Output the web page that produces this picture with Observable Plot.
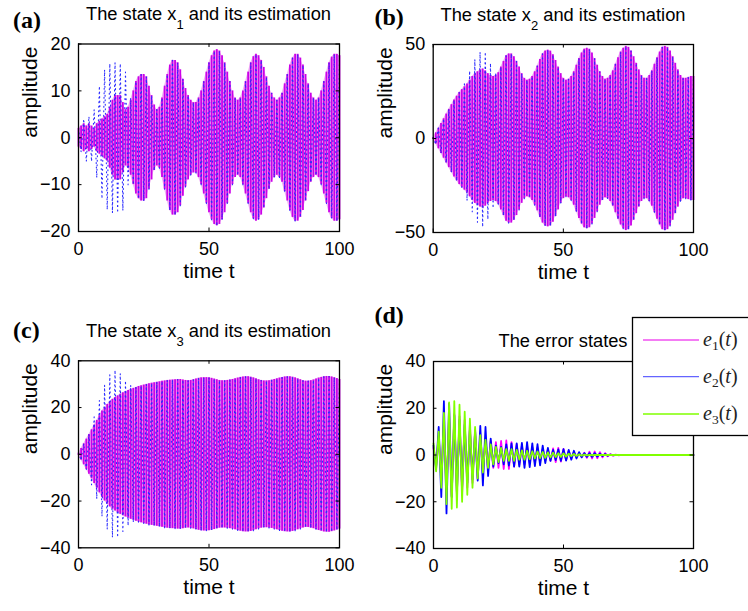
<!DOCTYPE html>
<html><head><meta charset="utf-8">
<script src="https://cdn.jsdelivr.net/npm/d3@7"></script>
<script src="https://cdn.jsdelivr.net/npm/@observablehq/plot@0.6"></script>
<style>
body{margin:0;background:#fff;}
#wrap{position:relative;width:748px;height:611px;overflow:hidden;background:#fff;}
.panel{position:absolute;}
.panel svg{overflow:visible;}
#overlay{position:absolute;left:0;top:0;pointer-events:none;}
</style></head><body><div id="wrap"></div>
<script>
// sample times (one sample per time unit)
const T = d3.range(0, 101);
const xTicks = [0, 50, 100];

// (a) state x1: oscillation amplitude read from the picture, and its estimate where it differs
const x1 = [2,2.5,3,2.5,3,2.5,2,3,3.5,4,
  4.5,5,6.5,8,9,9,9,7.5,6,6.5,
  8,10,12,13,13.5,13.5,13,11,9,7,
  6,6.5,8.5,11,13.5,15.5,16.5,16.5,16,14.5,
  12.5,10.5,9,8,7.5,7.5,8.5,10,12,14,
  16,17.5,18.5,18.8,18.5,17.5,16,14,12,10,
  8.5,8,8.5,10,12,14,16,17.3,17.8,17.5,
  16.5,15,13,11,9.5,8.5,8,8.5,9.5,11.5,
  13.5,15.5,17,17.8,17.8,17,15.5,13.5,11.5,9.5,
  8.5,8,8.5,10,12,14,16,17.2,17.8,17.8,
  17.5];
const x1hatEarly = [2,3,4,5,4.5,5,6,8.5,11,13,14.5,15.3,15.8,16,16,16,15.8,15.5,14,10,8.5,10];

// (b) state x2
const x2 = [0.5,3,5.5,8,10.5,13,15.5,18,20.5,22.5,
  24.5,26,27.5,29,31,33,34.5,35.5,36.5,37,
  36,34.5,33.5,33,33.5,35,38,41,44,45,
  45,43.5,41,38,34.5,32,31,31.5,33,35.5,
  38.5,42,45,46.5,47,46.5,44.5,41.5,38,34.5,
  32,31,31.5,33,35.5,39,42.5,45.5,47.5,48,
  47.5,45.5,42.5,39,35.5,33,31.5,32,33.5,36,
  39.5,43,46,48,49,48.5,46.5,43.5,40,36.5,
  33.5,32,32,33.5,36,39.5,43,46,48.5,49,
  48.5,46.5,43.5,40,36.5,33.5,32,32,32.5,33,
  33];
const x2hatEarly = [0.5,3,5.5,8,10.5,13,15.5,18,20.5,22.5,24.5,26,30,33,36,39,42,44.5,46,47,46,43,40,37,35,35];

// (c) state x3
const x3 = [0.5,2.5,4.5,6.5,8.5,10.5,12.5,14.5,16.5,18.5,
  20,21.3,22.5,23.5,24.3,25,25.7,26.3,26.8,27.3,
  27.8,28.2,28.6,29,29.3,29.6,29.9,30.2,30.4,30.6,
  30.8,31,31.2,31.4,31.6,31.7,31.8,31.9,32,32,
  31.8,31.6,31.5,31.6,31.9,32.2,32.5,32.7,32.8,32.8,
  32.7,32.5,32.2,31.9,31.6,31.5,31.5,31.6,31.8,32,
  32.3,32.6,32.9,33.1,33.2,33.2,33,32.7,32.3,31.9,
  31.6,31.4,31.4,31.5,31.7,32,32.3,32.6,32.9,33.1,
  33.2,33.2,33,32.7,32.3,31.9,31.5,31.3,31.3,31.5,
  31.8,32.2,32.6,32.9,33.2,33.3,33.3,33.1,32.8,32.4,
  32];
const x3hatEarly = [0.5,2.5,4.5,6.5,8.5,13,16,19,23,26.5,29.5,32,34,35.5,36,35.5,34.5,33,31.5,30.5,29.5,29,28.6];

// (d) error states
const e1 = [3,5,8,11,14,16,17,17.5,17.5,17,
  16.5,16,15,14,13,12,11,10,9,8,
  7,6.5,6,5.5,5.5,5.5,6,6,6.2,6,
  5.5,5,4.5,4.2,4,4,3.8,3.6,3.4,3.2,
  3,2.8,2.6,2.4,2.4,2.5,2.8,3,3,2.8,
  2.6,2.2,1.8,1.5,1.2,1,0.9,0.9,1,1.2,
  1.4,1.5,1.5,1.4,1.2,1,0.8,0.6,0.4,0.3,
  0.2,0.1,0,0,0,0,0,0,0,0,
  0,0,0,0,0,0,0,0,0,0,
  0,0,0,0,0,0,0,0,0,0,0];
const e2 = [4,6,12,18,23,25,22,18,17,16,
  15,14,13,12,11,10.5,10,11,12.5,13,
  12,9,7,5,4,3.5,3.5,4,4.5,4.5,
  5,5,5,5,5.2,5.5,5.5,5.2,5,4.8,
  4.6,4.4,4,3.5,3,2.5,2.2,2.2,2.4,2.5,
  2.5,2.4,2.2,2,1.8,1.5,1.2,1,0.8,0.8,
  0.8,0.8,0.8,0.7,0.6,0.5,0.4,0.3,0.2,0.1,
  0,0,0,0,0,0,0,0,0,0,
  0,0,0,0,0,0,0,0,0,0,
  0,0,0,0,0,0,0,0,0,0,0];
const e3 = [5,7,10,14,18,21,22.5,23,23,22.5,
  21.5,20,18.5,17,15.5,14,12,10,8.5,7.5,
  6.5,5.5,4.5,4,3.5,3,3,2.5,2.5,2.5,
  2.5,2.5,2.2,2,2,2,1.8,1.8,1.6,1.5,
  1.5,1.4,1.3,1.2,1.1,1,1,0.9,0.8,0.8,
  0.7,0.7,0.6,0.5,0.5,0.4,0.3,0.3,0.2,0.2,
  0.1,0.1,0,0,0,0,0,0,0,0,
  0,0,0,0,0,0,0,0,0,0,
  0,0,0,0,0,0,0,0,0,0,
  0,0,0,0,0,0,0,0,0,0,0];

const legendNames = ["e1", "e2", "e3"];
const colors = {true: "#cc00e8", band: "#efb2f6", est: "#2a2aff", e1: "#ff00ff", e2: "#0000ff", e3: "#80ff00"};
const legendColors = {e1: "#f050f0", e2: "#6464ff", e3: "#80ff00"};

// helpers: the signal swings between +amp and -amp from one sample to the next
const zig = amp => amp.map((a, i) => ({t: T[i], v: i % 2 === 0 ? a : -a}));
const band = amp => amp.map((a, i) => ({t: T[i], lo: -a, hi: a}));
const withEarly = (early, truth) => early.concat(truth.slice(early.length));

const FONT = "'Liberation Sans', Arial, Helvetica, sans-serif";
const TICKFS = 18;
const wrap = document.getElementById("wrap");

function panel({left, top, w, h, ml, mr, mt, mb, ydom, yticks, marks}) {
  const fw = w - ml - mr, fh = h - mt - mb;
  const lx = 3.5 * 100 / fw, ly = 3.5 * (ydom[1] - ydom[0]) / fh;
  const p = Plot.plot({
    width: w, height: h, marginLeft: ml, marginRight: mr, marginTop: mt, marginBottom: mb,
    style: {fontFamily: FONT, fontSize: TICKFS + "px", color: "black", background: "transparent"},
    x: {domain: [0, 100]},
    y: {domain: ydom},
    marks: [
      ...marks,
      Plot.ruleX(xTicks, {x: d => d, y1: ydom[0], y2: ydom[0] + ly, stroke: "black"}),
      Plot.ruleX(xTicks, {x: d => d, y1: ydom[1] - ly, y2: ydom[1], stroke: "black"}),
      Plot.ruleY(yticks, {y: d => d, x1: 0, x2: lx, stroke: "black"}),
      Plot.ruleY(yticks, {y: d => d, x1: 100 - lx, x2: 100, stroke: "black"}),
      Plot.frame({stroke: "black", strokeWidth: 1.3}),
      Plot.axisX({ticks: xTicks, tickSize: 0, tickPadding: 10.5, label: null, fontSize: TICKFS}),
      Plot.axisY({ticks: yticks, tickSize: 0, tickPadding: 8, label: null, fontSize: TICKFS}),
      Plot.text(["time t"], {text: d => d, frameAnchor: "bottom", dy: 46, fontSize: 21}),
      Plot.text(["amplitude"], {text: d => d, frameAnchor: "left", dx: -48, rotate: -90, fontSize: 21})
    ]
  });
  const div = document.createElement("div");
  div.className = "panel";
  div.style.left = left + "px";
  div.style.top = top + "px";
  div.appendChild(p);
  wrap.appendChild(div);
}

function stateMarks(truth, early) {
  return [
    Plot.areaY(band(truth), {x: "t", y1: "lo", y2: "hi", fill: colors.band}),
    Plot.ruleX(band(truth), {x: "t", y1: "lo", y2: "hi", stroke: colors.true, strokeWidth: 1.8}),
    Plot.line(zig(withEarly(early, truth)), {x: "t", y: "v", stroke: colors.est, strokeWidth: 1.1, strokeDasharray: "1,3.5"})
  ];
}

panel({left: 0, top: 0, w: 374, h: 300, ml: 78, mr: 35, mt: 43.5, mb: 69,
  ydom: [-20, 20], yticks: [-20, -10, 0, 10, 20], marks: stateMarks(x1, x1hatEarly)});
panel({left: 374, top: 0, w: 374, h: 300, ml: 58.7, mr: 55, mt: 44, mb: 68,
  ydom: [-50, 50], yticks: [-50, 0, 50], marks: stateMarks(x2, x2hatEarly)});
panel({left: 0, top: 300, w: 374, h: 311, ml: 78, mr: 35, mt: 60.3, mb: 63.7,
  ydom: [-40, 40], yticks: [-40, -20, 0, 20, 40], marks: stateMarks(x3, x3hatEarly)});
panel({left: 374, top: 300, w: 374, h: 311, ml: 59, mr: 55, mt: 61, mb: 63,
  ydom: [-40, 40], yticks: [-40, -20, 0, 20, 40], marks: [
    Plot.line(zig(e1), {x: "t", y: "v", stroke: colors.e1, strokeWidth: 1.8}),
    Plot.line(zig(e2), {x: "t", y: "v", stroke: colors.e2, strokeWidth: 1.8}),
    Plot.line(zig(e3), {x: "t", y: "v", stroke: colors.e3, strokeWidth: 1.8})
  ]});

// overlay: panel letters, titles, legend
const svg = d3.create("svg").attr("id", "overlay").attr("width", 748).attr("height", 611);
const letters = [["(a)", 13, 28], ["(b)", 374.5, 24.5], ["(c)", 13, 337.5], ["(d)", 374.5, 323]];
letters.forEach(([s, x, y]) => svg.append("text").attr("x", x).attr("y", y)
  .attr("font-family", "'Liberation Serif', 'Times New Roman', serif").attr("font-weight", "bold")
  .attr("font-size", 24).text(s));

const titles = [["1", 208.5, 19.5], ["2", 563, 20.5], ["3", 208.5, 336.7]];
titles.forEach(([sub, x, y]) => {
  const t = svg.append("text").attr("x", x).attr("y", y).attr("text-anchor", "middle")
    .attr("font-family", FONT).attr("font-size", 18.3);
  t.append("tspan").text("The state x");
  t.append("tspan").attr("font-size", 13).attr("dy", 9).text(sub);
  t.append("tspan").attr("dy", -9).text(" and its estimation");
});
svg.append("text").attr("x", 563).attr("y", 346.5).attr("text-anchor", "middle")
  .attr("font-family", FONT).attr("font-size", 18.3).text("The error states");

// legend
const lg = svg.append("g");
lg.append("rect").attr("x", 632.5).attr("y", 317.5).attr("width", 130).attr("height", 118)
  .attr("fill", "white").attr("stroke", "black").attr("stroke-width", 1.3);
const ly = [340, 376.7, 414];
legendNames.forEach((name, i) => {
  lg.append("line").attr("x1", 643).attr("x2", 699).attr("y1", ly[i]).attr("y2", ly[i])
    .attr("stroke", legendColors[name]).attr("stroke-width", 1.3);
  const t = lg.append("text").attr("x", 703).attr("y", ly[i] + 6)
    .attr("font-family", "'Liberation Serif', 'Times New Roman', serif").attr("font-size", 20).attr("fill", "#222");
  t.append("tspan").attr("font-style", "italic").text("e");
  t.append("tspan").attr("font-size", 13.5).attr("dy", 4).text(name.slice(1));
  t.append("tspan").attr("dy", -4).text("(");
  t.append("tspan").attr("font-style", "italic").text("t");
  t.append("tspan").text(")");
});
wrap.appendChild(svg.node());
</script></body></html>
